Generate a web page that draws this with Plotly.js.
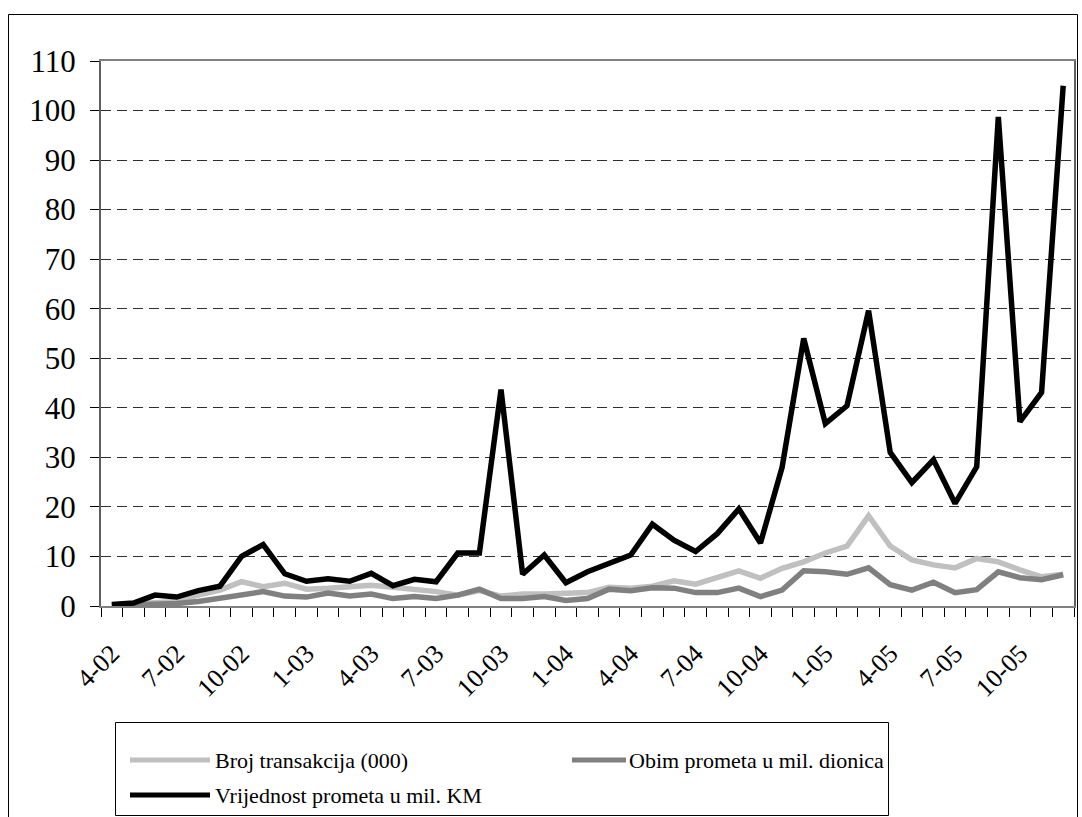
<!DOCTYPE html>
<html>
<head>
<meta charset="utf-8">
<script src="https://cdn.plot.ly/plotly-3.0.1.min.js"></script>
<style>
  html, body { margin: 0; padding: 0; background: #ffffff; }
  #chart { width: 1082px; height: 817px; }
</style>
</head>
<body>
<div id="chart"></div>
<script>
// Months (category axis), April 2002 - December 2005
const months = [
  "4-02","5-02","6-02","7-02","8-02","9-02","10-02","11-02","12-02",
  "1-03","2-03","3-03","4-03","5-03","6-03","7-03","8-03","9-03","10-03","11-03","12-03",
  "1-04","2-04","3-04","4-04","5-04","6-04","7-04","8-04","9-04","10-04","11-04","12-04",
  "1-05","2-05","3-05","4-05","5-05","6-05","7-05","8-05","9-05","10-05","11-05","12-05"
];

// Series names
const seriesNames = [
  "Broj transakcija (000)",
  "Obim prometa u mil. dionica",
  "Vrijednost prometa u mil. KM"
];

// Broj transakcija (000)
const brojTransakcija = [
  0.2, 0.4, 0.6, 0.9, 2.2, 3.2, 4.9, 3.9, 4.6,
  3.4, 3.6, 3.8, 4.2, 3.8, 3.4, 2.9, 2.2, 3.1, 2.0, 2.4, 2.4,
  2.6, 2.7, 3.8, 3.6, 4.0, 5.1, 4.4, 5.8, 7.1, 5.6, 7.6, 8.9,
  10.7, 12.1, 18.2, 12.1, 9.3, 8.3, 7.7, 9.6, 8.9, 7.3, 5.9, 6.4
];

// Obim prometa u mil. dionica
const obimPrometa = [
  0.1, 0.2, 0.3, 0.5, 0.9, 1.5, 2.2, 2.9, 2.0,
  1.8, 2.6, 2.0, 2.4, 1.5, 1.9, 1.5, 2.2, 3.4, 1.5, 1.5, 1.9,
  1.1, 1.5, 3.4, 3.1, 3.7, 3.6, 2.7, 2.7, 3.6, 1.9, 3.2, 7.1,
  6.9, 6.4, 7.7, 4.3, 3.2, 4.8, 2.7, 3.3, 6.9, 5.7, 5.3, 6.3
];

// Vrijednost prometa u mil. KM
const vrijednostPrometa = [
  0.3, 0.6, 2.2, 1.8, 3.1, 4.0, 10.0, 12.4, 6.5,
  5.0, 5.5, 5.0, 6.6, 4.1, 5.4, 4.9, 10.7, 10.7, 43.7, 6.4, 10.3,
  4.7, 6.9, 8.7, 10.3, 16.5, 13.3, 11.0, 14.6, 19.6, 12.7, 28.0, 54.0,
  36.8, 40.4, 59.6, 31.0, 24.9, 29.5, 20.7, 28.1, 98.7, 37.2, 43.1, 105.0
];

// Y tick values
const yTicks = [0, 10, 20, 30, 40, 50, 60, 70, 80, 90, 100, 110];

// Only every third month is labelled
const xTickText = months.map((m, i) => (i % 3 === 0 ? m : ""));

const FONT = "Liberation Serif, Times New Roman, serif";
const COLORS = ["#c0c0c0", "#808080", "#000000"];
const seriesData = [brojTransakcija, obimPrometa, vrijednostPrometa];

const traces = seriesData.map((vals, k) => ({
  x: months, y: vals, name: seriesNames[k],
  type: "scatter", mode: "lines",
  line: { color: COLORS[k], width: 5.5 },
  showlegend: false
}));

const W = 1082, H = 817;
const mL = 101, mR = 8, mT = 61, mB = 211;
const plotW = W - mL - mR, plotH = H - mT - mB;
function px2paperX(px) { return (px - mL) / plotW; }
function px2paperY(py) { return (H - mB - py) / plotH; }

// Hand-drawn legend (Excel style box, two columns)
const legendItems = [
  { x0: 130, x1: 210, tx: 213, y: 760 },
  { x0: 572, x1: 626, tx: 627, y: 760 },
  { x0: 130, x1: 210, tx: 213, y: 795 }
];

const shapes = [
  // outer chart border
  {
    type: "rect", xref: "paper", yref: "paper",
    x0: px2paperX(8.5), x1: px2paperX(1077.5),
    y0: px2paperY(830), y1: px2paperY(14.5),
    line: { color: "#000000", width: 1 },
    fillcolor: "rgba(0,0,0,0)", layer: "below"
  },
  // legend box
  {
    type: "rect", xref: "paper", yref: "paper",
    x0: px2paperX(115.5), x1: px2paperX(888.5),
    y0: px2paperY(815.5), y1: px2paperY(722.5),
    line: { color: "#000000", width: 1 },
    fillcolor: "#ffffff", layer: "above"
  }
];
const annotations = [];
legendItems.forEach((it, k) => {
  shapes.push({
    type: "line", xref: "paper", yref: "paper",
    x0: px2paperX(it.x0), x1: px2paperX(it.x1),
    y0: px2paperY(it.y), y1: px2paperY(it.y),
    line: { color: COLORS[k], width: 5 }, layer: "above"
  });
  annotations.push({
    xref: "paper", yref: "paper",
    x: px2paperX(it.tx), y: px2paperY(it.y),
    xanchor: "left", yanchor: "middle",
    text: seriesNames[k], showarrow: false,
    font: { family: FONT, size: 22, color: "#000000" }
  });
});

const layout = {
  width: W, height: H,
  margin: { l: mL, r: mR, t: mT, b: mB, pad: 0, autoexpand: false },
  paper_bgcolor: "#ffffff",
  plot_bgcolor: "#ffffff",
  font: { family: FONT, color: "#000000", size: 26 },
  showlegend: false,
  xaxis: {
    type: "category",
    range: [-0.5, months.length - 0.5],
    tickmode: "array",
    tickvals: months,
    ticktext: xTickText,
    tickson: "boundaries",
    ticks: "outside",
    ticklen: 9,
    tickwidth: 1,
    tickcolor: "#000000",
    tickangle: -45,
    ticklabelstandoff: 20,
    tickfont: { family: FONT, size: 26, color: "#000000" },
    showgrid: false,
    zeroline: false,
    showline: true,
    linecolor: "#808080",
    linewidth: 2,
    mirror: true,
    automargin: false,
    fixedrange: true
  },
  yaxis: {
    range: [0, 110],
    tickmode: "array",
    tickvals: yTicks,
    ticktext: yTicks.map(String),
    ticks: "outside",
    ticklen: 9,
    tickwidth: 1,
    tickcolor: "#000000",
    ticklabelstandoff: 8,
    tickfont: { family: FONT, size: 31, color: "#000000" },
    showgrid: true,
    gridcolor: "#303030",
    gridwidth: 1,
    griddash: "10px,6px",
    zeroline: false,
    showline: true,
    linecolor: "#606060",
    linewidth: 2,
    mirror: true,
    automargin: false,
    fixedrange: true
  },
  shapes: shapes,
  annotations: annotations
};

Plotly.newPlot("chart", traces, layout, { displayModeBar: false, staticPlot: true });
</script>
</body>
</html>
